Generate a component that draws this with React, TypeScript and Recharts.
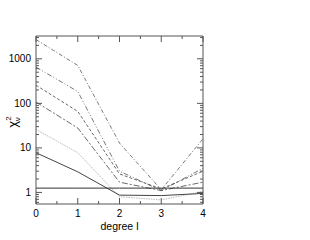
import React from 'react';
import { LineChart, Line, XAxis, YAxis } from 'recharts';

const degrees = [0, 1, 2, 3, 4];
const s1 = [2700, 710, 12.8, 1.15, 16];
const s2 = [650, 185, 3.0, 1.1, 3.5];
const s3 = [255, 66, 2.6, 1.2, 3.0];
const s4 = [107, 28, 1.7, 1.1, 1.7];
const s5 = [26, 7.8, 0.8, 0.68, 1.05];
const s6 = [7.8, 2.9, 0.87, 0.85, 0.95];
const s7 = [1.25, 1.25, 1.25, 1.25, 1.25];

const xTicks = [0, 0.5, 1, 1.5, 2, 2.5, 3, 3.5, 4];
const xMajor = [0, 1, 2, 3, 4];
const yMajor = [1, 10, 100, 1000];
const yTicks = [
  0.6, 0.7, 0.8, 0.9, 1, 2, 3, 4, 5, 6, 7, 8, 9, 10, 20, 30, 40, 50, 60, 70, 80, 90,
  100, 200, 300, 400, 500, 600, 700, 800, 900, 1000, 2000, 3000,
];

const data = degrees.map((d, i) => ({
  d,
  s1: s1[i],
  s2: s2[i],
  s3: s3[i],
  s4: s4[i],
  s5: s5[i],
  s6: s6[i],
  s7: s7[i],
}));

const AX = '#555';
const FONT = 'Liberation Sans, Arial, sans-serif';

const LeftTick = (props: any) => {
  const { x, y, payload } = props;
  const major = yMajor.includes(payload.value);
  return (
    <g>
      <line x1={x} x2={x + (major ? 6 : 3)} y1={y} y2={y} stroke={AX} />
      {major && (
        <text x={x - 5} y={y} dy={3.5} textAnchor="end" fontSize={10} fontFamily={FONT} fill="#000">
          {payload.value}
        </text>
      )}
    </g>
  );
};

const RightTick = (props: any) => {
  const { x, y, payload } = props;
  const major = yMajor.includes(payload.value);
  return <line x1={x} x2={x - (major ? 6 : 3)} y1={y} y2={y} stroke={AX} />;
};

const BottomTick = (props: any) => {
  const { x, y, payload } = props;
  const major = xMajor.includes(payload.value);
  return (
    <g>
      <line x1={x} x2={x} y1={y} y2={y - (major ? 6 : 3)} stroke={AX} />
      {major && (
        <text x={x} y={y + 13} textAnchor="middle" fontSize={10} fontFamily={FONT} fill="#000">
          {payload.value}
        </text>
      )}
    </g>
  );
};

const TopTick = (props: any) => {
  const { x, y, payload } = props;
  const major = xMajor.includes(payload.value);
  return <line x1={x} x2={x} y1={y} y2={y + (major ? 6 : 3)} stroke={AX} />;
};

const YLabel = (props: any) => {
  const vb = props.viewBox || {};
  const cx = vb.x + 17;
  const cy = vb.y + vb.height / 2 + 2;
  return (
    <text
      x={cx}
      y={cy}
      transform={`rotate(-90, ${cx}, ${cy})`}
      textAnchor="middle"
      fontFamily={FONT}
      fontSize={13}
      fill="#000"
    >
      <tspan>χ</tspan>
      <tspan fontSize={8} dy={-6}>2</tspan>
      <tspan fontSize={8} dx={-5} dy={9}>ν</tspan>
    </text>
  );
};

const XLabel = (props: any) => {
  const vb = props.viewBox || {};
  return (
    <text
      x={vb.x + vb.width / 2}
      y={vb.y + 26}
      textAnchor="middle"
      fontFamily={FONT}
      fontSize={10.5}
      fill="#000"
    >
      degree l
    </text>
  );
};

export default function App() {
  return (
    <div style={{ position: 'absolute', left: 0, top: 0, width: 310, height: 240, background: '#fff' }}>
      <LineChart width={310} height={240} data={data} margin={{ top: 35, right: 106, bottom: 35, left: 0 }}>
        <XAxis
          dataKey="d"
          type="number"
          domain={[0, 4]}
          ticks={xTicks}
          interval={0}
          tickSize={0}
          tickMargin={0}
          tickLine={false}
          height={1}
          axisLine={{ stroke: AX }}
          tick={<BottomTick />}
          label={<XLabel />}
        />
        <XAxis
          xAxisId="top"
          orientation="top"
          dataKey="d"
          type="number"
          domain={[0, 4]}
          ticks={xTicks}
          interval={0}
          tickSize={0}
          tickMargin={0}
          tickLine={false}
          height={1}
          axisLine={{ stroke: AX }}
          tick={<TopTick />}
        />
        <YAxis
          type="number"
          scale="log"
          domain={[0.55, 3250]}
          allowDataOverflow
          ticks={yTicks}
          interval={0}
          tickSize={0}
          tickMargin={0}
          tickLine={false}
          width={36}
          axisLine={{ stroke: AX }}
          tick={<LeftTick />}
          label={<YLabel />}
        />
        <YAxis
          yAxisId="right"
          orientation="right"
          type="number"
          scale="log"
          domain={[0.55, 3250]}
          allowDataOverflow
          ticks={yTicks}
          interval={0}
          tickSize={0}
          tickMargin={0}
          tickLine={false}
          width={1}
          axisLine={{ stroke: AX }}
          tick={<RightTick />}
        />
        <Line dataKey="s1" stroke="#555" strokeWidth={0.8} strokeDasharray="4 2 1 2" dot={false} isAnimationActive={false} />
        <Line dataKey="s2" stroke="#555" strokeWidth={0.8} strokeDasharray="5 2 1 2 1 2" dot={false} isAnimationActive={false} />
        <Line dataKey="s3" stroke="#444" strokeWidth={0.8} strokeDasharray="3 2" dot={false} isAnimationActive={false} />
        <Line dataKey="s4" stroke="#444" strokeWidth={0.8} strokeDasharray="6 2 2 2" dot={false} isAnimationActive={false} />
        <Line dataKey="s5" stroke="#aaa" strokeWidth={0.8} strokeDasharray="1.5 1" dot={false} isAnimationActive={false} />
        <Line dataKey="s6" stroke="#444" strokeWidth={1} dot={false} isAnimationActive={false} />
        <Line dataKey="s7" stroke="#333" strokeWidth={1} dot={false} isAnimationActive={false} />
      </LineChart>
    </div>
  );
}
